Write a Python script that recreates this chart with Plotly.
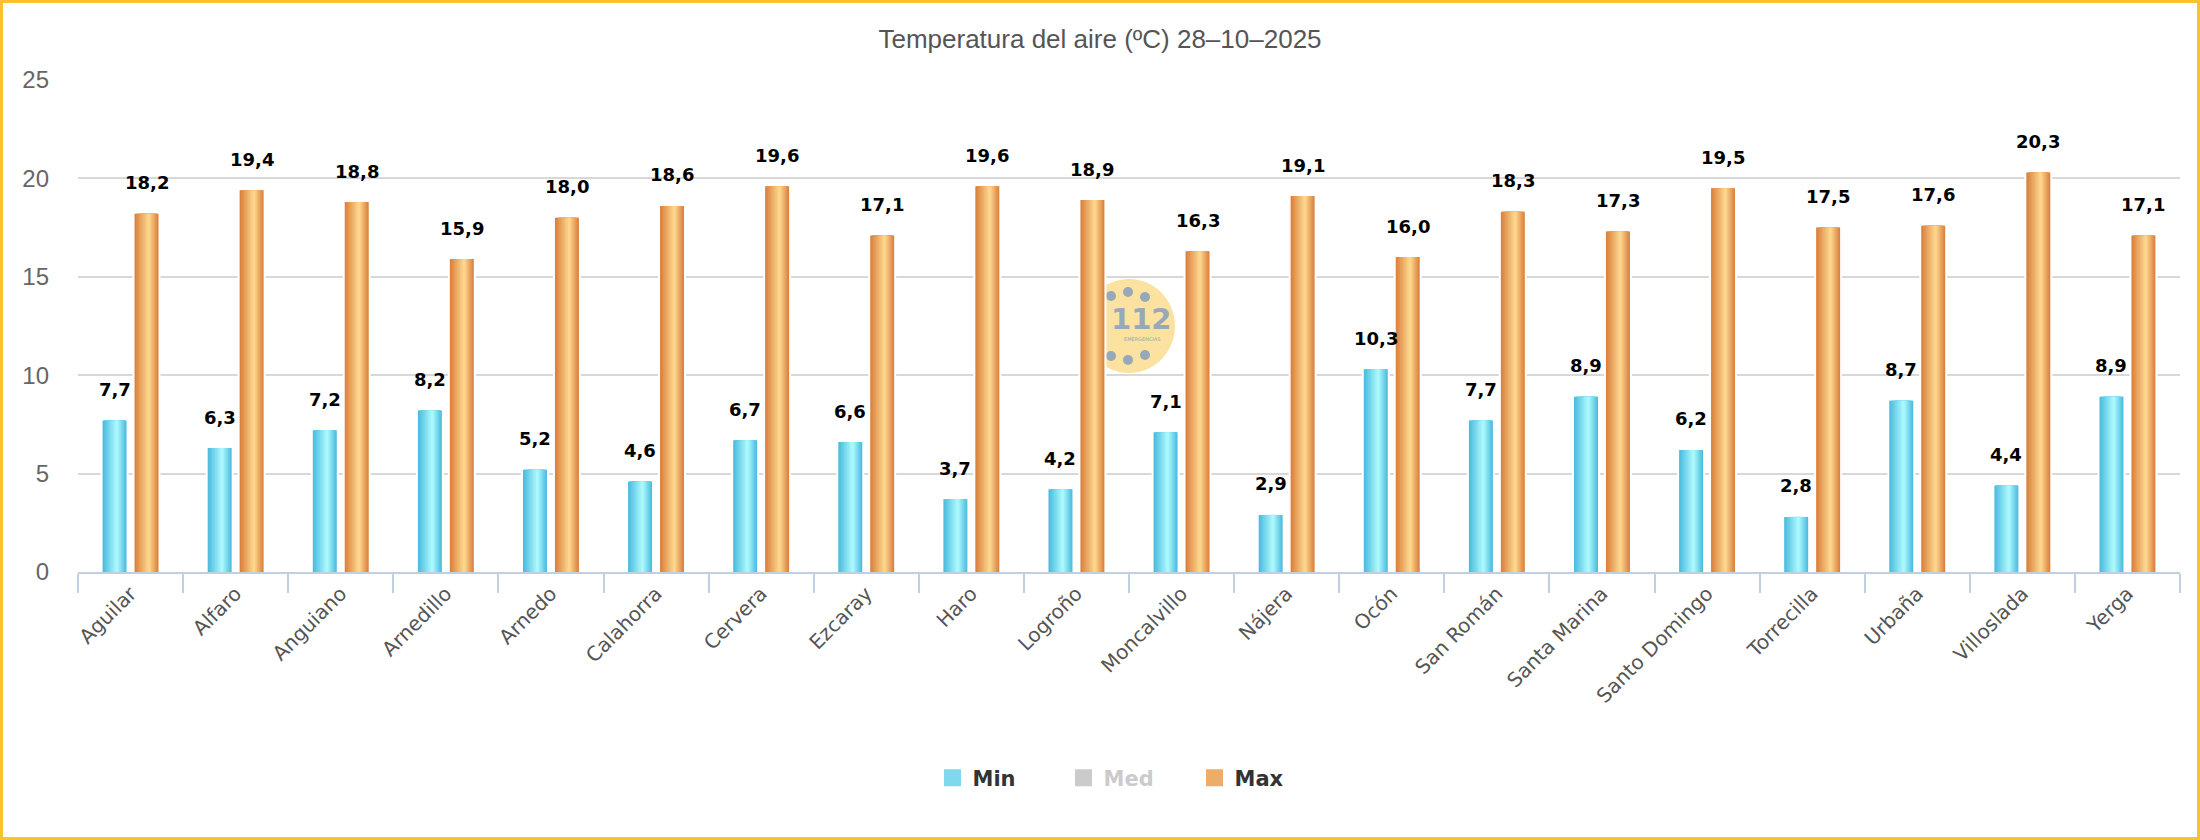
import plotly.graph_objects as go

# ---------------- data ----------------
stations = ["Aguilar", "Alfaro", "Anguiano", "Arnedillo", "Arnedo", "Calahorra",
            "Cervera", "Ezcaray", "Haro", "Logroño", "Moncalvillo", "Nájera", "Ocón",
            "San Román", "Santa Marina", "Santo Domingo", "Torrecilla", "Urbaña",
            "Villoslada", "Yerga"]
t_min = [7.7, 6.3, 7.2, 8.2, 5.2, 4.6, 6.7, 6.6, 3.7, 4.2, 7.1, 2.9, 10.3, 7.7,
         8.9, 6.2, 2.8, 8.7, 4.4, 8.9]
t_max = [18.2, 19.4, 18.8, 15.9, 18.0, 18.6, 19.6, 17.1, 19.6, 18.9, 16.3, 19.1,
         16.0, 18.3, 17.3, 19.5, 17.5, 17.6, 20.3, 17.1]
y_ticks = [0, 5, 10, 15, 20, 25]
title_text = "Temperatura del aire (ºC) 28–10–2025"

# ---------------- layout geometry ----------------
W, H = 2200, 840
ML, MR, MT, MB = 78, 20, 80, 268
PW, PH = W - ML - MR, H - MT - MB

BAR_W = 0.228
OFF_MIN = -0.266
OFF_MAX = 0.038
N_LAYERS = 10
HIGHLIGHT = 0.6


def hex2rgb(h):
    h = h.lstrip("#")
    return tuple(int(h[i:i + 2], 16) for i in (0, 2, 4))


def mix(c1, c2, t):
    a, b = hex2rgb(c1), hex2rgb(c2)
    return "rgb(%d,%d,%d)" % tuple(round(a[i] + (b[i] - a[i]) * t) for i in range(3))


fig = go.Figure()


def add_series(name, values, off, edge, light, legend_color, rank):
    # base bar with white outline (gaps in the grid around the bars)
    fig.add_trace(go.Bar(
        x=stations, y=values, width=BAR_W, offset=off,
        marker=dict(color=edge, line=dict(color="white", width=4)),
        name=name, legendrank=rank, showlegend=False, hoverinfo="skip"))
    # nested layers to imitate the horizontal gradient
    a = HIGHLIGHT * BAR_W / N_LAYERS
    b = (1 - HIGHLIGHT) * BAR_W / N_LAYERS
    for k in range(N_LAYERS):
        w = BAR_W - k * (a + b)
        t = k / (N_LAYERS - 1)
        fig.add_trace(go.Bar(
            x=stations, y=values, width=w, offset=off + k * a,
            marker=dict(color=mix(edge, light, t), line=dict(width=0)),
            name=name, showlegend=False, hoverinfo="skip"))
    # legend entry
    fig.add_trace(go.Bar(
        x=[stations[0]], y=[0], width=0, name=name, legendrank=rank,
        marker=dict(color=legend_color, line=dict(color=legend_color, width=5)),
        showlegend=True, hoverinfo="skip"))


add_series("Min", t_min, OFF_MIN, "#4DBCE0", "#AAF8FC", "#7FD8EE", 1)
fig.add_trace(go.Bar(x=stations, y=[None] * len(stations), name="<span style='color:#999999'>Med</span>",
                     marker=dict(color="#999999", line=dict(color="#999999", width=5)),
                     visible="legendonly", legendrank=2))
add_series("Max", t_max, OFF_MAX, "#DA823E", "#FDD58D", "#EEAC66", 3)

# data labels
annotations = []
for i, v in enumerate(t_min):
    annotations.append(dict(x=i + OFF_MIN + BAR_W / 2, y=v, xref="x", yref="y",
                            text=f"{v:.1f}".replace(".", ","), showarrow=False,
                            yshift=31, yanchor="middle",
                            font=dict(family="DejaVu Sans", size=18, color="#000000", weight="bold")))
for i, v in enumerate(t_max):
    annotations.append(dict(x=i + OFF_MAX + BAR_W / 2, y=v, xref="x", yref="y",
                            text=f"{v:.1f}".replace(".", ","), showarrow=False,
                            yshift=31, yanchor="middle",
                            font=dict(family="DejaVu Sans", size=18, color="#000000", weight="bold")))

# 112 watermark (centered in plot area)
logo_col = "#97A8B8"
shapes = [dict(type="circle", xref="paper", yref="paper", xsizemode="pixel", ysizemode="pixel",
               xanchor=0.5, yanchor=0.5, x0=-46, x1=46, y0=-47, y1=47,
               fillcolor="#FBE2A0", line=dict(width=0), layer="below")]
for dx, dy in [(-18, 30), (-1, 34), (16, 29), (-18, -30), (-1, -34), (16, -29)]:
    shapes.append(dict(type="circle", xref="paper", yref="paper", xsizemode="pixel", ysizemode="pixel",
                       xanchor=0.5, yanchor=0.5, x0=dx - 5, x1=dx + 5, y0=dy - 5, y1=dy + 5,
                       fillcolor=logo_col, line=dict(width=0), layer="below"))
annotations.append(dict(x=0.5, y=0.5, xref="paper", yref="paper", text="112", showarrow=False,
                        xshift=12, yshift=7, font=dict(family="DejaVu Sans", size=29, color=logo_col,
                                                       weight="bold")))
annotations.append(dict(x=0.5, y=0.5, xref="paper", yref="paper", text="EMERGENCIAS", showarrow=False,
                        xshift=13, yshift=-13, font=dict(family="DejaVu Sans", size=5, color=logo_col)))

# yellow frame around the whole chart
bw = 3
shapes.append(dict(type="rect", xref="paper", yref="paper",
                   x0=(bw / 2 - ML) / PW, x1=(W - bw / 2 - ML) / PW,
                   y0=(MT + PH - (H - bw / 2)) / PH, y1=(MT + PH - bw / 2) / PH,
                   line=dict(color="#FBC22F", width=bw), fillcolor="rgba(0,0,0,0)", layer="above"))

fig.update_layout(
    width=W, height=H,
    margin=dict(l=ML, r=MR, t=MT, b=MB),
    paper_bgcolor="white", plot_bgcolor="white",
    barmode="overlay",
    title=dict(text=title_text, x=0.5, xanchor="center", y=1 - 39 / H, yanchor="middle",
               yref="container",
               font=dict(family="Liberation Sans Narrow, Liberation Sans", size=26, color="#555555")),
    xaxis=dict(type="category", tickson="boundaries", ticks="outside", ticklen=19, tickwidth=2,
               tickcolor="#C0D0E0", showline=True, linecolor="#C0D0E0", linewidth=2,
               showgrid=False, tickangle=-45,
               tickfont=dict(family="DejaVu Sans", size=20, color="#555555"),
               range=[-0.5, len(stations) - 0.5]),
    yaxis=dict(range=[0, 25], tickvals=y_ticks, showgrid=True, gridcolor="#D8D8D8", gridwidth=2,
               zeroline=False, showline=False, ticks="", ticklabelstandoff=28,
               tickfont=dict(family="Liberation Sans Narrow, Liberation Sans", size=24, color="#666666")),
    legend=dict(orientation="h", x=0.5, xanchor="center", y=(MT + PH - 778) / PH, yanchor="middle",
                font=dict(family="DejaVu Sans", size=21, color="#333333", weight="bold"),
                entrywidth=86, entrywidthmode="pixels",
                itemclick=False, itemdoubleclick=False),
    annotations=annotations,
    shapes=shapes,
    showlegend=True,
)

fig.write_html("out.html")
